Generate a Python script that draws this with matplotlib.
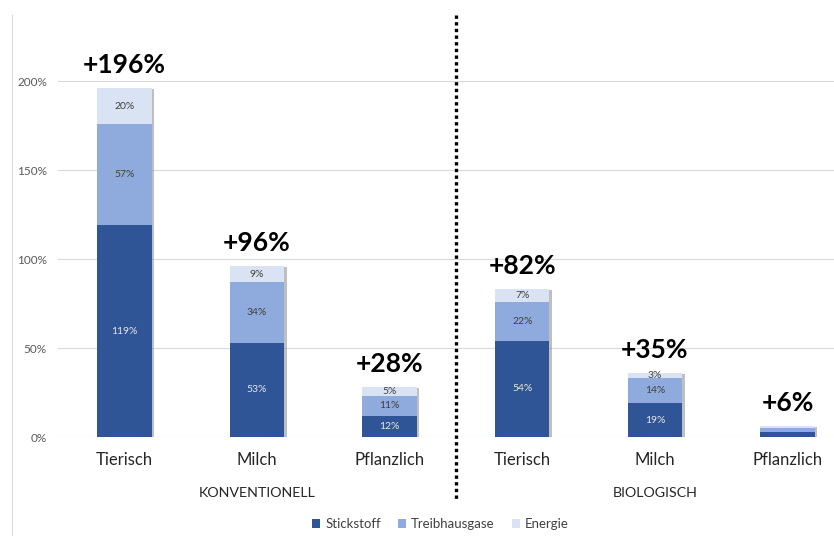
import numpy as np
import matplotlib.pyplot as plt
from matplotlib.lines import Line2D
import matplotlib.transforms as mtransforms

categories = ['Tierisch', 'Milch', 'Pflanzlich', 'Tierisch', 'Milch', 'Pflanzlich']
groups = ['KONVENTIONELL', 'BIOLOGISCH']
stickstoff = [119, 53, 12, 54, 19, 3]
treibhausgase = [57, 34, 11, 22, 14, 2]
energie = [20, 9, 5, 7, 3, 1]
total_labels = ['+196%', '+96%', '+28%', '+82%', '+35%', '+6%']
show_segment_labels = [True, True, True, True, True, False]

plt.rcParams['font.family'] = ['Lato', 'DejaVu Sans']

c_stick = '#2F5597'
c_thg = '#8FAADC'
c_en = '#DAE3F3'

fig = plt.figure(figsize=(8.34, 5.36), dpi=100)
ax = fig.add_axes([58 / 834, 99 / 536, 776 / 834, 418 / 536])

x = np.arange(len(categories))
s = np.array(stickstoff) / 100
t = np.array(treibhausgase) / 100
e = np.array(energie) / 100
tot = s + t + e
w = 0.41

# soft shadow behind each full stack
ax.bar(x + 0.018, tot, w, bottom=-0.006, color='#8c8c8c', alpha=0.55, zorder=2, linewidth=0)
b1 = ax.bar(x, s, w, color=c_stick, label='Stickstoff', zorder=3)
b2 = ax.bar(x, t, w, bottom=s, color=c_thg, label='Treibhausgase', zorder=3)
b3 = ax.bar(x, e, w, bottom=s + t, color=c_en, label='Energie', zorder=3)

for i in range(len(x)):
    if show_segment_labels[i]:
        ax.text(x[i], s[i] / 2, f'{stickstoff[i]}%', ha='center', va='center',
                fontsize=7.5, color='#E6E6E6', zorder=4)
        ax.text(x[i], s[i] + t[i] / 2, f'{treibhausgase[i]}%', ha='center', va='center',
                fontsize=7.5, color='#404040', zorder=4)
        ax.text(x[i], s[i] + t[i] + e[i] / 2, f'{energie[i]}%', ha='center', va='center',
                fontsize=7.5, color='#404040', zorder=4)
    ax.annotate(total_labels[i], (x[i], tot[i]), xytext=(0, 11), textcoords='offset points',
                ha='center', va='baseline', fontsize=19, fontweight='bold', color='black')

ax.set_xlim(-0.5, 5.35)
ax.set_ylim(0, 2.35)
ax.set_yticks([0, 0.5, 1.0, 1.5, 2.0])
ax.set_yticklabels(['0%', '50%', '100%', '150%', '200%'])
ax.set_xticks(x)
ax.set_xticklabels(categories)
ax.tick_params(axis='y', length=0, pad=8, labelsize=8.5, labelcolor='#595959')
ax.tick_params(axis='x', length=0, pad=11, labelsize=12, labelcolor='#262626')
ax.grid(axis='y', color='#D9D9D9', linewidth=0.8, zorder=0)
for sp in ax.spines.values():
    sp.set_visible(False)

trans = mtransforms.blended_transform_factory(ax.transData, ax.transAxes)
ax.text(1, -0.134, groups[0], transform=trans, ha='center', va='center', fontsize=10.3, color='#262626')
ax.text(4, -0.134, groups[1], transform=trans, ha='center', va='center', fontsize=10.3, color='#262626')

# dotted separator between the two groups
ax.plot([2.5, 2.5], [1.01, -0.151], transform=trans, color='black', linewidth=2.4,
        linestyle=(0, (1, 1)), clip_on=False, zorder=5)

# left border line
fig.add_artist(Line2D([12 / 834, 12 / 834], [0, 521 / 536], color='#D9D9D9', linewidth=0.8))

fig.legend(handles=[b1, b2, b3], loc='center', bbox_to_anchor=(0.528, 0.022), ncol=3,
           frameon=False, fontsize=9.5, handlelength=0.6, handleheight=0.6,
           handletextpad=0.4, columnspacing=1.3, labelcolor='#404040')

fig.savefig('out.png', dpi=100)
